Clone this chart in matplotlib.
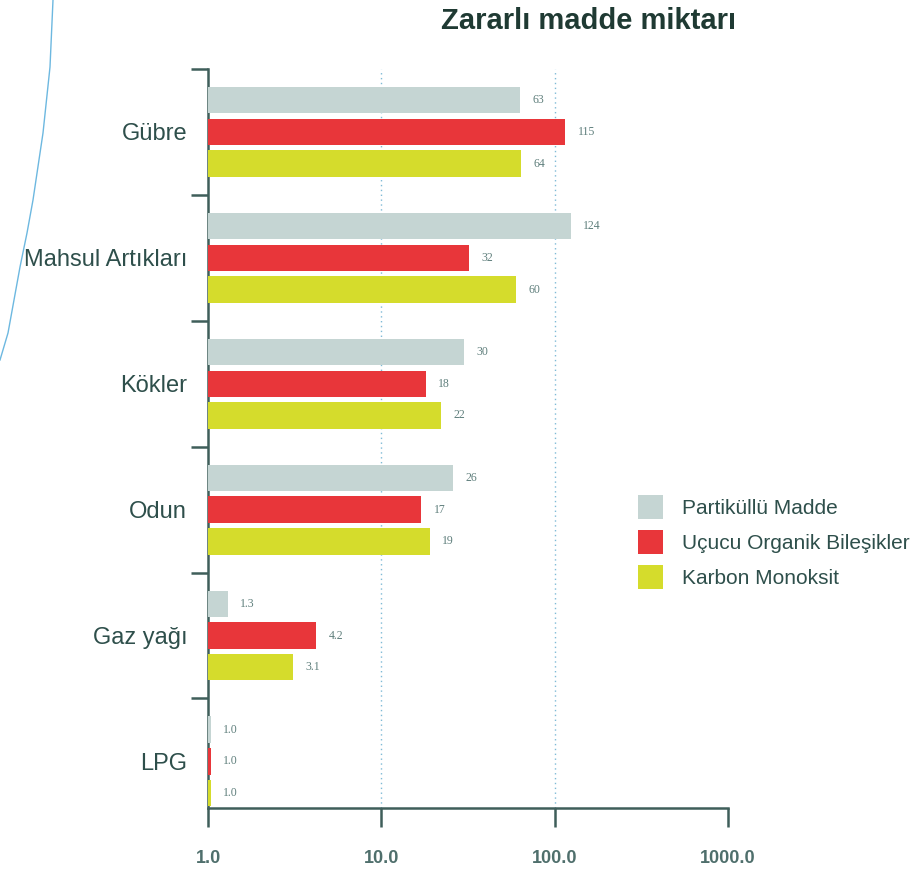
import matplotlib
matplotlib.use("Agg")
import matplotlib.pyplot as plt
import numpy as np
from matplotlib.lines import Line2D

categories = ["Gübre", "Mahsul Artıkları", "Kökler", "Odun", "Gaz yağı", "LPG"]
series_names = ["Partiküllü Madde", "Uçucu Organik Bileşikler", "Karbon Monoksit"]
partikul = [63, 124, 30, 26, 1.3, 1.04]
ucucu = [115, 32, 18, 17, 4.2, 1.04]
karbon = [64, 60, 22, 19, 3.1, 1.04]
x_ticks = [1, 10, 100, 1000]
x_ticklabels = ["1.0", "10.0", "100.0", "1000.0"]

colors = ["#c5d5d3", "#e8363a", "#d5dc2c"]
text_col = "#2e4f4b"
axis_col = "#3f5e5a"
val_col = "#5f7f7c"

plt.rcParams['font.family'] = ['Liberation Sans', 'DejaVu Sans']

fig = plt.figure(figsize=(9.13, 8.69), dpi=100)
ax = fig.add_axes([208/913, 1-808/869, 520/913, (808-69)/869])

y = np.arange(len(categories))
offs = [-0.252, 0.0, 0.252]
h = 0.21
all_series = [partikul, ucucu, karbon]
handles = []
for s, (vals, off, c, name) in enumerate(zip(all_series, offs, colors, series_names)):
    b = ax.barh(y + off, vals, height=h, color=c, label=name, zorder=3)
    handles.append(b)
    for yi, v in zip(y, vals):
        lab = f"{v:.1f}" if v < 10 else f"{v:g}"
        ax.annotate(lab, xy=(v, yi + off), xytext=(9, 0), textcoords="offset points",
                    va="center", ha="left", fontsize=8.5, color=val_col,
                    family=['Liberation Serif', 'DejaVu Serif'])

ax.set_xscale("log")
ax.set_xlim(1, 1000)
ax.set_ylim(5.37, -0.5)

# gridlines
for gx in [10, 100]:
    ax.axvline(gx, color="#7fbad6", linestyle=(0, (1, 2.5)), linewidth=1.0, zorder=1)

ax.set_xticks(x_ticks)
ax.set_xticklabels(x_ticklabels)
ax.xaxis.set_minor_locator(matplotlib.ticker.NullLocator())
ax.tick_params(axis="x", which="major", direction="out", length=14, width=1.8,
               color=axis_col, labelsize=13, labelcolor="#4f6f6c", pad=16)
for t in ax.get_xticklabels():
    t.set_fontweight("bold")

# left axis: boundary ticks (major) and category labels (minor)
ax.set_yticks(np.arange(-0.5, len(categories) - 0.5, 1.0))
ax.set_yticklabels([])
ax.set_yticks(y, minor=True)
ax.set_yticklabels(categories, minor=True)
ax.tick_params(axis="y", which="major", direction="out", length=12, width=1.8, color=axis_col)
ax.tick_params(axis="y", which="minor", length=0, labelsize=17, labelcolor=text_col, pad=15)

for side in ["top", "right"]:
    ax.spines[side].set_visible(False)
for side in ["left", "bottom"]:
    ax.spines[side].set_color(axis_col)
    ax.spines[side].set_linewidth(1.8)

fig.text(588/913, 1-29/869, "Zararlı madde miktarı", ha="center", va="baseline",
         fontsize=21, fontweight="bold", color="#1f3a33")

leg = fig.legend(handles=handles, labels=series_names, loc="upper left",
                 bbox_to_anchor=(638/913, 1-495/869), frameon=False,
                 fontsize=15, handlelength=1.2, handleheight=1.4,
                 handletextpad=0.9, labelspacing=0.52, borderpad=0, borderaxespad=0)
for t in leg.get_texts():
    t.set_color(text_col)

# decorative page curve at the left edge
cx = np.array([53, 50, 43, 33, 27, 20, 8, 0]) / 913
cy = 1 - np.array([0, 67, 133, 200, 233, 267, 333, 360]) / 869
fig.add_artist(Line2D(cx, cy, color="#6db8e0", linewidth=1.0, transform=fig.transFigure))

fig.savefig("out.png", dpi=100)
